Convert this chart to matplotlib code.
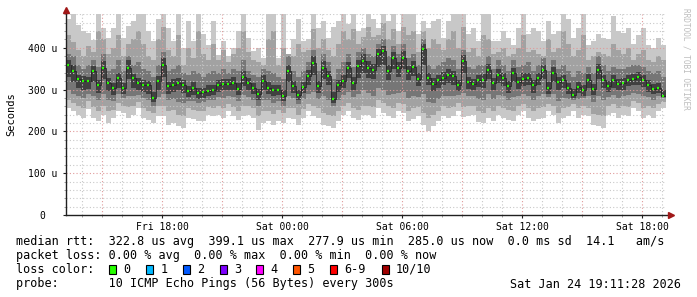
import matplotlib.pyplot as plt
import numpy as np
from matplotlib.patches import Rectangle

# time axis: hours since Fri 00:00, one sample every 15 minutes
start_hour = 13 + 11 / 60
step_hours = 0.25

median = [360, 345, 325, 320, 320, 344, 312, 352, 316, 304,
          328, 304, 352, 328, 316, 312, 310, 280, 320, 360,
          308, 312, 316, 310, 296, 304, 292, 294, 296, 300,
          310, 314, 314, 316, 302, 330, 316, 304, 290, 320,
          304, 298, 300, 284, 344, 308, 286, 307, 332, 364,
          308, 352, 332, 278, 310, 320, 352, 316, 356, 368,
          352, 348, 385, 392, 344, 376, 352, 376, 344, 354,
          326, 398, 328, 314, 322, 328, 336, 332, 310, 368,
          318, 314, 324, 324, 348, 316, 336, 328, 308, 340,
          318, 326, 328, 310, 328, 346, 304, 340, 318, 322,
          304, 288, 306, 298, 324, 302, 348, 324, 308, 322,
          314, 316, 324, 326, 330, 322, 310, 302, 304, 285]

# outer smoke (fastest / slowest ping)
outer_hi = [470, 500, 455, 440, 436, 418, 500, 448, 424, 448,
            500, 424, 452, 464, 490, 500, 440, 416, 470, 500,
            448, 416, 500, 400, 464, 416, 500, 432, 408, 464,
            384, 416, 380, 400, 440, 500, 424, 392, 400, 376,
            480, 500, 376, 490, 380, 420, 470, 416, 420, 500,
            448, 464, 424, 450, 464, 500, 456, 500, 440, 448,
            500, 470, 448, 500, 464, 500, 440, 500, 490, 480,
            432, 464, 448, 464, 470, 424, 464, 500, 490, 500,
            432, 448, 416, 500, 480, 416, 416, 440, 424, 408,
            448, 490, 432, 448, 440, 416, 464, 432, 440, 500,
            470, 424, 448, 500, 408, 416, 432, 424, 420, 476,
            440, 436, 448, 410, 430, 448, 408, 400, 424, 408]
outer_lo = [256, 248, 240, 232, 254, 232, 224, 240, 220, 232,
            248, 244, 232, 240, 256, 232, 228, 220, 236, 236,
            216, 220, 212, 208, 232, 230, 224, 226, 240, 238,
            240, 232, 248, 236, 228, 236, 240, 232, 204, 220,
            224, 216, 224, 220, 232, 230, 216, 232, 248, 236,
            232, 216, 212, 208, 224, 240, 248, 232, 228, 240,
            240, 232, 256, 244, 236, 232, 248, 244, 224, 230,
            236, 216, 200, 212, 224, 238, 232, 236, 248, 234,
            238, 240, 222, 220, 232, 226, 240, 232, 228, 224,
            240, 248, 232, 224, 230, 232, 248, 240, 220, 232,
            236, 248, 232, 240, 236, 216, 212, 208, 240, 244,
            232, 240, 236, 256, 250, 232, 240, 232, 248, 256]

mid_hi = [430, 415, 395, 380, 405, 390, 440, 420, 385, 400,
          430, 380, 410, 420, 440, 410, 380, 370, 420, 450,
          395, 380, 430, 360, 400, 375, 440, 385, 370, 410,
          370, 395, 365, 385, 400, 440, 390, 370, 365, 360,
          420, 440, 360, 400, 385, 380, 410, 390, 395, 445,
          400, 420, 395, 380, 410, 440, 420, 445, 410, 425,
          450, 425, 430, 460, 420, 445, 410, 450, 430, 440,
          390, 440, 400, 420, 410, 395, 420, 440, 400, 450,
          390, 400, 380, 430, 420, 385, 390, 400, 380, 385,
          400, 430, 390, 395, 385, 380, 420, 390, 400, 440,
          410, 380, 395, 430, 370, 380, 390, 385, 380, 410,
          395, 385, 400, 370, 385, 395, 370, 365, 380, 370]
mid_lo = [275, 268, 262, 255, 272, 258, 250, 262, 248, 252,
          268, 262, 258, 262, 270, 255, 250, 245, 260, 262,
          248, 252, 240, 238, 255, 252, 248, 250, 258, 256,
          262, 255, 266, 258, 250, 262, 262, 255, 236, 248,
          250, 242, 252, 245, 255, 256, 240, 254, 266, 262,
          256, 244, 240, 236, 250, 262, 268, 256, 252, 262,
          262, 258, 275, 268, 260, 256, 268, 265, 250, 255,
          258, 245, 232, 240, 250, 260, 256, 258, 268, 258,
          260, 262, 248, 245, 256, 250, 262, 256, 252, 248,
          260, 266, 255, 248, 255, 258, 266, 262, 245, 255,
          258, 266, 255, 262, 256, 242, 240, 236, 262, 265,
          255, 262, 258, 272, 268, 255, 262, 255, 266, 270]

inner_hi = [385, 380, 360, 350, 360, 370, 355, 385, 345, 350,
            370, 345, 380, 360, 365, 350, 345, 330, 360, 390,
            345, 350, 360, 340, 335, 345, 340, 330, 340, 345,
            340, 350, 340, 350, 345, 370, 345, 335, 330, 350,
            345, 340, 330, 325, 380, 345, 330, 345, 365, 395,
            345, 385, 365, 325, 350, 365, 385, 355, 390, 400,
            385, 380, 410, 420, 380, 405, 385, 410, 375, 385,
            360, 420, 360, 350, 360, 365, 375, 370, 350, 395,
            355, 350, 360, 360, 380, 350, 370, 360, 345, 370,
            355, 360, 365, 345, 360, 375, 345, 370, 350, 360,
            345, 330, 345, 340, 355, 340, 380, 360, 345, 355,
            350, 350, 355, 360, 360, 355, 345, 340, 345, 330]
inner_lo = [300, 290, 285, 280, 290, 285, 275, 290, 275, 272,
            290, 280, 285, 285, 288, 280, 275, 262, 282, 290,
            275, 278, 270, 268, 272, 274, 268, 270, 275, 276,
            282, 280, 285, 282, 272, 288, 282, 276, 262, 275,
            276, 268, 274, 262, 285, 280, 265, 278, 290, 295,
            278, 285, 275, 260, 276, 288, 295, 282, 290, 300,
            292, 285, 305, 300, 288, 290, 292, 295, 280, 285,
            282, 290, 270, 268, 278, 285, 285, 285, 288, 292,
            285, 285, 278, 275, 290, 278, 288, 284, 276, 282,
            284, 290, 285, 275, 284, 290, 282, 290, 272, 280,
            278, 275, 278, 280, 285, 270, 285, 275, 282, 288,
            280, 285, 286, 292, 290, 284, 282, 276, 284, 280]

core_hi = [372, 360, 335, 332, 330, 356, 322, 368, 328, 315,
           340, 316, 370, 338, 328, 322, 320, 295, 332, 375,
           318, 325, 328, 322, 308, 318, 305, 304, 310, 312,
           322, 326, 325, 330, 315, 345, 328, 316, 302, 334,
           318, 310, 312, 298, 360, 320, 300, 318, 348, 380,
           320, 368, 345, 294, 322, 334, 366, 330, 372, 385,
           368, 362, 398, 405, 358, 390, 366, 392, 356, 368,
           340, 410, 340, 328, 335, 342, 350, 345, 322, 384,
           330, 326, 336, 338, 362, 328, 350, 340, 320, 352,
           330, 340, 340, 322, 340, 360, 318, 354, 330, 334,
           316, 302, 318, 310, 338, 314, 362, 336, 320, 334,
           326, 328, 336, 338, 342, 334, 322, 314, 316, 298]
core_lo = [330, 318, 305, 300, 302, 318, 292, 325, 296, 288,
           305, 290, 325, 305, 298, 295, 290, 270, 300, 330,
           290, 295, 298, 292, 282, 288, 278, 280, 284, 288,
           295, 298, 300, 300, 288, 308, 300, 290, 275, 300,
           290, 285, 288, 272, 318, 292, 275, 292, 312, 335,
           292, 325, 310, 268, 294, 305, 328, 300, 328, 340,
           328, 325, 355, 360, 322, 350, 330, 350, 322, 332,
           308, 360, 310, 296, 305, 310, 315, 312, 296, 340,
           302, 298, 306, 305, 325, 300, 315, 308, 292, 318,
           302, 308, 310, 292, 310, 325, 290, 318, 300, 305,
           290, 280, 292, 285, 305, 288, 325, 305, 294, 305,
           298, 300, 308, 310, 312, 306, 295, 290, 292, 282]

y_ticks = [0, 100, 200, 300, 400]
y_tick_labels = ["0  ", "100 u", "200 u", "300 u", "400 u"]
x_ticks = [18, 24, 30, 36, 42]
x_tick_labels = ["Fri 18:00", "Sat 00:00", "Sat 06:00", "Sat 12:00", "Sat 18:00"]

loss_labels = ["0", "1", "2", "3", "4", "5", "6-9", "10/10"]
loss_colors = ["#26ff00", "#00b8ff", "#0059ff", "#7e00ff", "#ff00ff",
               "#ff5500", "#ff0000", "#a00000"]

mono = "DejaVu Sans Mono"
W, H = 697, 297


def px(x, y):
    return x / W, 1 - y / H


fig = plt.figure(figsize=(W / 100, H / 100), dpi=100, facecolor="white")
ax = fig.add_axes([66 / W, 1 - 215 / H, 600 / W, 201 / H])
ax.set_xlim(start_hour, start_hour + 30)
ax.set_ylim(0, 481)

edges = start_hour + step_hours * np.arange(len(median) + 1)

bands = [(outer_lo, outer_hi, "#c8c8c8"),
         (mid_lo, mid_hi, "#a2a2a2"),
         (inner_lo, inner_hi, "#767676"),
         (core_lo, core_hi, "#404040")]
for lo, hi, col in bands:
    ax.stairs(hi, edges, baseline=lo, fill=True, color=col, lw=0, zorder=1)

# grid on top of the smoke
for v in range(20, 481, 20):
    col = "#e09a9a" if v % 100 == 0 else "#c8c8c8"
    ax.axhline(v, color=col, lw=0.8, ls=(0, (1, 2)), zorder=2)
for h in range(14, 44):
    col = "#e09a9a" if h % 3 == 0 else "#c8c8c8"
    ax.axvline(h, color=col, lw=0.8, ls=(0, (1, 2)), zorder=2)

ax.stairs(median, edges, color="#262626", lw=0.6, zorder=3)
ax.hlines(median, edges[:-1] + 0.06, edges[1:] - 0.08, colors=loss_colors[0],
          lw=1.6, zorder=4)

for s in ax.spines.values():
    s.set_visible(False)
ax.plot([0, 1.004], [0, 0], color="#202020", lw=1, transform=ax.transAxes,
        clip_on=False, zorder=5)
ax.plot([0, 0], [0, 1.01], color="#202020", lw=1, transform=ax.transAxes,
        clip_on=False, zorder=5)
ax.plot([1.008], [0], marker=">", ms=4.5, color="#a01818", transform=ax.transAxes,
        clip_on=False, zorder=6)
ax.plot([0], [1.022], marker="^", ms=4.5, color="#a01818", transform=ax.transAxes,
        clip_on=False, zorder=6)

ax.set_yticks(y_ticks)
ax.set_yticklabels(y_tick_labels, family=mono, fontsize=7)
ax.set_xticks(x_ticks)
ax.set_xticklabels(x_tick_labels, family=mono, fontsize=7)
ax.set_yticks(range(0, 481, 20), minor=True)
ax.set_xticks(range(14, 44), minor=True)
ax.tick_params(which="major", length=2, width=0.8, color="#202020", pad=3)
ax.tick_params(which="minor", length=1.5, width=0.6, color="#909090")
ax.tick_params(axis="y", pad=4)
ax.set_ylabel("Seconds", family=mono, fontsize=7.5, labelpad=9)

fig.text(*px(686, 59), "RRDTOOL / TOBI OETIKER", rotation=270, color="#bdbdbd",
         family=mono, fontsize=5.6, ha="center", va="center")

fs = 8.5
fig.text(*px(16, 241), "median rtt:  322.8 us avg  399.1 us max  277.9 us min  "
         "285.0 us now  0.0 ms sd  14.1   am/s", family=mono, fontsize=fs, va="center")
fig.text(*px(16, 255.5), "packet loss: 0.00 % avg  0.00 % max  0.00 % min  0.00 % now",
         family=mono, fontsize=fs, va="center")
fig.text(*px(16, 269.5), "loss color:", family=mono, fontsize=fs, va="center")
fig.text(*px(16, 284), "probe:       10 ICMP Echo Pings (56 Bytes) every 300s",
         family=mono, fontsize=fs, va="center")
fig.text(*px(681, 284), "Sat Jan 24 19:11:28 2026", family=mono, fontsize=fs,
         va="center", ha="right")

box_x = [108.5, 146, 182.5, 219.5, 256, 293, 330, 381.5]
for bx, lab, col in zip(box_x, loss_labels, loss_colors):
    x0, y0 = px(bx, 274)
    fig.patches.append(Rectangle((x0, y0), 7 / W, 9 / H, transform=fig.transFigure,
                                 facecolor=col, edgecolor="black", lw=0.8))
    fig.text(*px(bx + 14.5, 269.5), lab, family=mono, fontsize=fs, va="center")

fig.savefig("out.png", dpi=100, facecolor="white")
